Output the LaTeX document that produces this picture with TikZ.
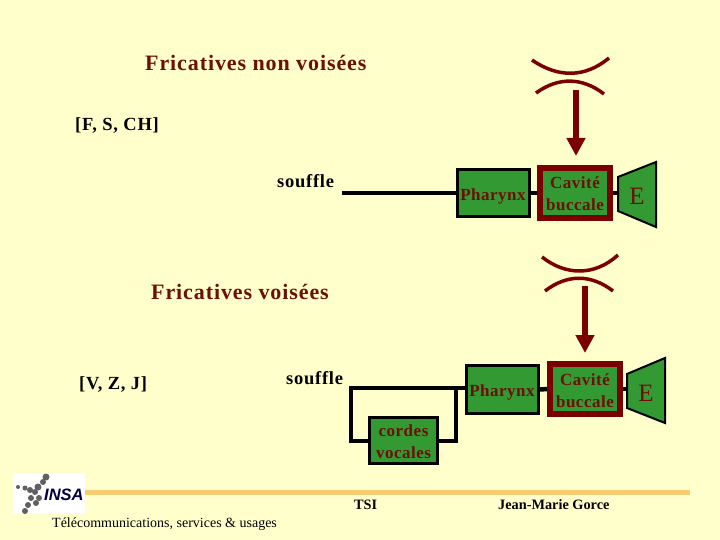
\documentclass[tikz,border=0pt]{standalone}
\usepackage{fontspec}
\setmainfont{Liberation Serif}
\newfontfamily\logofont{Liberation Sans}
\usetikzlibrary{arrows.meta}
\definecolor{bgc}{HTML}{FFFFCC}
\definecolor{dred}{HTML}{6E0F05}
\definecolor{arcred}{HTML}{7A0000}
\definecolor{gbox}{HTML}{339933}
\definecolor{rulec}{HTML}{F5CC70}
\tikzset{
  x=1pt,y=-1pt,
  title/.style={font=\bfseries\fontsize{22}{24}\selectfont\addfontfeature{LetterSpace=4.1},text=dred,inner sep=0pt,anchor=base west},
  lab/.style={font=\bfseries\fontsize{18.5}{20}\selectfont\addfontfeature{LetterSpace=4},text=black,inner sep=0pt,anchor=base west},
  boxtxt/.style={font=\bfseries\fontsize{17}{21.5}\selectfont\addfontfeature{LetterSpace=3},text=dred,align=center,inner sep=0pt},
  etxt/.style={font=\fontsize{25}{25}\selectfont,text=dred,inner sep=0pt},
  blk/.style={draw=black,line width=3pt,fill=gbox,inner sep=0pt},
  cav/.style={draw=arcred,line width=6pt,fill=gbox,inner sep=0pt},
  wire/.style={draw=black,line width=4.5pt,line join=miter},
  arc/.style={draw=arcred,line width=3.5pt},
  arrowd/.style={draw=arcred,line width=6pt,-{Triangle[length=18pt,width=18pt,fill=arcred]}},
  foot/.style={font=\bfseries\fontsize{14.3}{16}\selectfont,text=black,inner sep=0pt,anchor=base west},
  footr/.style={font=\fontsize{14}{16}\selectfont,text=black,inner sep=0pt,anchor=base west},
}
\begin{document}
\begin{tikzpicture}
\useasboundingbox (0,0) rectangle (720,540);
\fill[bgc] (0,0) rectangle (720,540);
% footer
\coordinate (ra) at (85,492); \coordinate (rb) at (690,492);
\draw[rulec,line width=5pt] (ra) -- (rb);
\fill[white] (13,473) rectangle (85,513);
\foreach \p/\r in {{46,477}/3.5,{43,482}/3,{38,487}/3.5,{35,492}/3,{30,490}/3,{25,488}/2.5,{18,487}/2,{31,498}/3,{39,498}/3,{36,503}/3,{28,505}/3,{25,511}/3}{\fill[gray!75!black] (\p) circle (\r);}
\node[font=\logofont\bfseries\itshape\fontsize{16.5}{17}\selectfont,text=black!75!blue,inner sep=0pt,anchor=base west] (insa) at (44,500) {INSA};
\node[foot] (tsi) at (354,509) {TSI};
\node[foot] (jmg) at (498,509) {Jean-Marie Gorce};
\node[footr] (tel) at (52,527) {Télécommunications, services \& usages};
% texts
\node[title] (t1) at (145,71) {Fricatives non voisées};
\node[title] (t2) at (151,299) {Fricatives voisées};
\node[lab] (l1) at (75,131) {[F, S, CH]};
\node[lab] (l2) at (79,389) {[V, Z, J]};
\node[lab] (s1) at (277,188) {souffle};
\node[lab] (s2) at (286,384) {souffle};
% top chain
\coordinate (w1) at (342,193);
\node[blk,minimum width=72pt,minimum height=47pt] (ph1) at (493.5,193) {};
\node[cav,minimum width=70pt,minimum height=50pt] (cb1) at (575,193) {};
\draw[wire] (w1) -- (ph1.west);
\draw[wire] (ph1.east) -- (cb1.west);
\draw[wire] (cb1.east) -- (620,193);
\draw[black,line width=2pt,fill=gbox] (618,177) -- (656,162) -- (656,227) -- (618,211) -- cycle;
\node[boxtxt] (p1) at (493,196) {Pharynx};
\node[boxtxt] (q1) at (575,193.5) {Cavité\\buccale};
\node[etxt] (e1) at (637,196) {E};
\draw[arc] (532,60) .. controls (558,78) and (585,78) .. (609,58);
\draw[arc] (536,93) .. controls (558,77) and (582,77) .. (604,94);
\coordinate (a1) at (576,90); \coordinate (b1) at (576,156);
\draw[arrowd] (a1) -- (b1);
% bottom chain
\node[blk,minimum width=72pt,minimum height=48pt] (ph2) at (502.5,389.5) {};
\node[cav,minimum width=70pt,minimum height=50pt] (cb2) at (585,389) {};
\node[blk,minimum width=68pt,minimum height=46pt] (cv) at (403.5,440.5) {};
\coordinate (c1) at (351,388); \coordinate (c2) at (456,388);
\draw[wire] (ph2.west |- c1) -- (c1) -- (351,441) -- (cv.west |- 0,441);
\draw[wire] (c2) -- (456,441) -- (cv.east |- 0,441);
\draw[wire] (ph2.east) -- (cb2.west);
\draw[wire] (cb2.east) -- (629,389);
\draw[black,line width=2pt,fill=gbox] (627,374) -- (665,358) -- (665,423) -- (627,408) -- cycle;
\node[boxtxt] (p2) at (502,392) {Pharynx};
\node[boxtxt] (q2) at (585,390.5) {Cavité\\buccale};
\node[boxtxt] (r) at (403.5,441.5) {cordes\\vocales};
\node[etxt] (e2) at (646,393) {E};
\draw[arc] (542,257) .. controls (566,276) and (595,276) .. (618,255);
\draw[arc] (545,291) .. controls (567,274) and (591,274) .. (613,291);
\coordinate (a2) at (585,286); \coordinate (b2) at (585,353);
\draw[arrowd] (a2) -- (b2);
\end{tikzpicture}
\end{document}
